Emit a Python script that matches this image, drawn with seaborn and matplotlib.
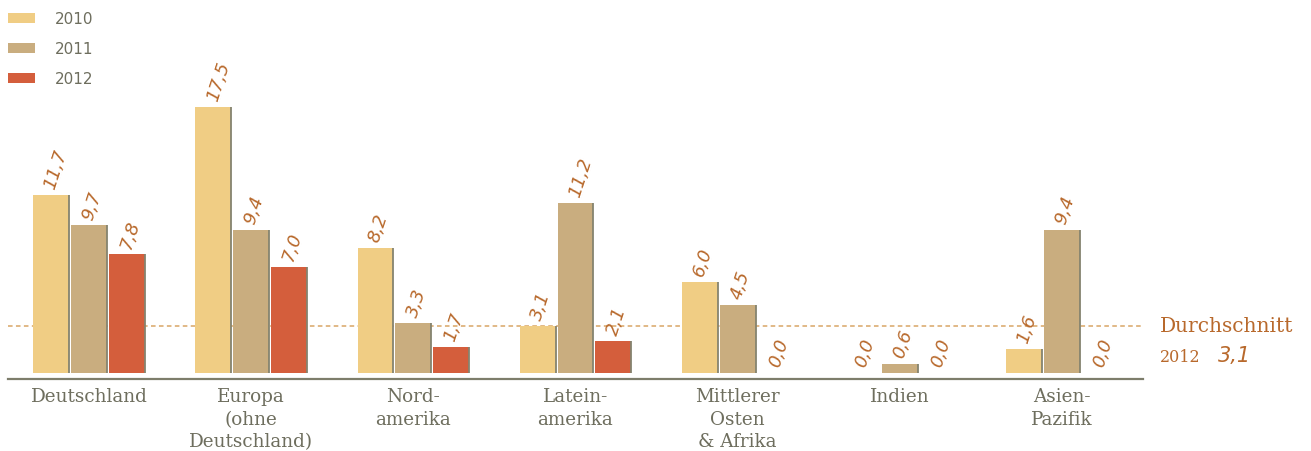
import matplotlib
matplotlib.use("Agg")
import matplotlib.pyplot as plt
from matplotlib.transforms import blended_transform_factory
import seaborn as sns
import pandas as pd

# Regions, years and shares (in %)
regions = ["Deutschland", "Europa\n(ohne\nDeutschland)", "Nord-\namerika",
           "Latein-\namerika", "Mittlerer\nOsten\n& Afrika", "Indien",
           "Asien-\nPazifik"]
years = ["2010", "2011", "2012"]
values_2010 = [11.7, 17.5, 8.2, 3.1, 6.0, 0.0, 1.6]
values_2011 = [9.7, 9.4, 3.3, 11.2, 4.5, 0.6, 9.4]
values_2012 = [7.8, 7.0, 1.7, 2.1, 0.0, 0.0, 0.0]
average_2012 = 3.1

colors = ["#F0CD84", "#C9AD7F", "#D45E3C"]
label_color = "#B8692C"
text_gray = "#6E6E5E"
edge_gray = "#85836F"


def de(v):
    return f"{v:.1f}".replace(".", ",")


df = pd.DataFrame({
    "Region": regions * 3,
    "Jahr": [y for y in years for _ in regions],
    "Wert": values_2010 + values_2011 + values_2012,
})

sns.set_theme(style="white")
plt.rcParams["font.family"] = ["DejaVu Serif", "DejaVu Sans"]

fig = plt.figure(figsize=(13.11, 4.52), dpi=100)
W, H = 1311, 452
ax = fig.add_axes([8 / W, (H - 380) / H, (1143 - 8) / W, 380 / H])

sns.barplot(data=df, x="Region", y="Wert", hue="Jahr", palette=colors,
            width=0.70, gap=0.05, saturation=1, ax=ax, linewidth=0,
            errorbar=None)

ax.set_xlim(-0.5, 6.5)
ax.set_ylim(-0.4, 24.6)

# Thin shaded right edge on each bar, and the value labels above them
for container in ax.containers:
    for bar in container:
        h = bar.get_height()
        x0 = bar.get_x()
        w = bar.get_width()
        if h > 0:
            ax.vlines(x0 + w, 0, h, color=edge_gray, lw=1.3, zorder=3)
        ax.annotate(de(h), xy=(x0 + w / 2, h),
                    xytext=(-1, 5), textcoords="offset points",
                    rotation=72, rotation_mode="anchor",
                    ha="left", va="center", fontsize=13,
                    family="DejaVu Sans", style="italic",
                    color=label_color, clip_on=False)

# Average line
ax.axhline(average_2012, color="#D9A566", lw=1.1, ls=(0, (3, 2.2)), zorder=0)
trans = blended_transform_factory(ax.transAxes, ax.transData)
ax.text(1.015, average_2012, "Durchschnitt", transform=trans, va="center",
        ha="left", fontsize=14.5, color=label_color, clip_on=False)
ax.text(1.015, 1.1, "2012", transform=trans, va="center", ha="left",
        fontsize=11.5, color=label_color, clip_on=False)
ax.text(1.066, 1.15, de(average_2012), transform=trans,
        va="center", ha="left", fontsize=15, family="DejaVu Sans",
        style="italic", color=label_color, clip_on=False)

# Axes styling
for side in ["top", "right", "left"]:
    ax.spines[side].set_visible(False)
ax.spines["bottom"].set_color("#7D7D6B")
ax.spines["bottom"].set_linewidth(1.6)
ax.set_yticks([])
ax.set_xlabel("")
ax.set_ylabel("")
ax.tick_params(axis="x", length=0, pad=6, labelsize=13.2, labelcolor=text_gray)
for lbl in ax.get_xticklabels():
    lbl.set_linespacing(1.32)

# Legend in the upper-left corner
sns.move_legend(ax, "upper left", bbox_to_anchor=(2 / W, 1 - 6 / H),
                bbox_transform=fig.transFigure, frameon=False, title=None,
                handlelength=1.75, handleheight=0.65, labelspacing=0.98,
                handletextpad=1.3, borderaxespad=0.0,
                prop={"family": "DejaVu Sans", "size": 11},
                labelcolor=text_gray)

fig.savefig("out.png", dpi=100, facecolor="white")
